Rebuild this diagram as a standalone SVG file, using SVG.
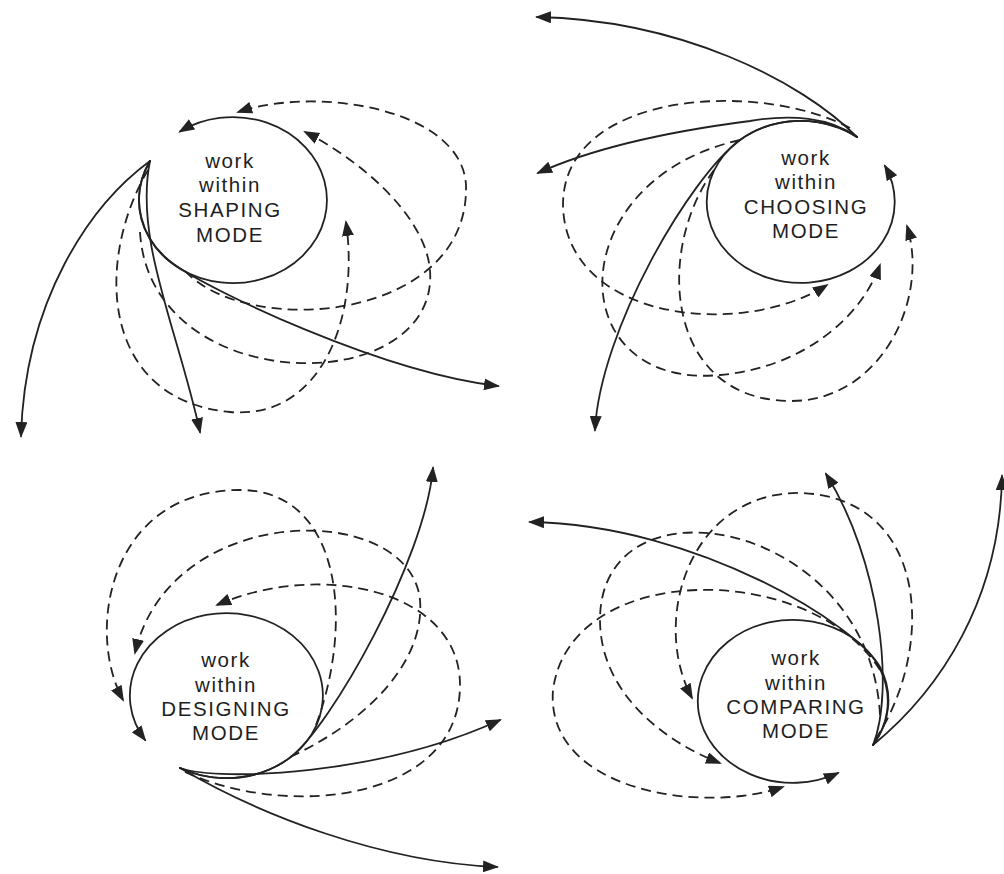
<svg xmlns="http://www.w3.org/2000/svg" width="1004" height="874" viewBox="0 0 1004 874">
<style>
.ln{fill:none;stroke:#222;stroke-width:1.8;stroke-linecap:round}
.ds{fill:none;stroke:#222;stroke-width:1.8;stroke-dasharray:10 6}
.tx{font-family:"Liberation Sans",Arial,sans-serif;font-size:20.5px;letter-spacing:1.6px;fill:#1e1e1e;text-anchor:middle}
</style>
<defs>
<marker id="ah" viewBox="0 0 16 12" refX="14" refY="6" markerWidth="16" markerHeight="12" markerUnits="userSpaceOnUse" orient="auto"><path d="M0,0 L16,6 L0,12 z" fill="#222"/></marker>
</defs>
<rect width="1004" height="874" fill="#fff"/>

<g id="shaping">
<path class="ln" d="M150,161 A94,83 0 1 0 180,131.5" marker-end="url(#ah)"/>
<text class="tx" x="230" y="168">work</text>
<text class="tx" x="230" y="192">within</text>
<text class="tx" x="230" y="217">SHAPING</text>
<text class="tx" x="230" y="242">MODE</text>
</g>

<g id="choosing">
<path class="ln" d="M857,137 A94,81 0 1 0 885,166" marker-end="url(#ah)"/>
<text class="tx" x="806" y="165">work</text>
<text class="tx" x="806" y="189">within</text>
<text class="tx" x="806" y="214">CHOOSING</text>
<text class="tx" x="806" y="238">MODE</text>
</g>

<g id="designing">
<path class="ln" d="M180,768 A96.5,82.5 0 1 0 145,740" marker-end="url(#ah)"/>
<text class="tx" x="226" y="667">work</text>
<text class="tx" x="226" y="692">within</text>
<text class="tx" x="226" y="716">DESIGNING</text>
<text class="tx" x="226" y="740">MODE</text>
</g>

<g id="comparing">
<path class="ln" d="M873,745 A95,81.5 0 1 0 838,773" marker-end="url(#ah)"/>
<text class="tx" x="796" y="665">work</text>
<text class="tx" x="796" y="690">within</text>
<text class="tx" x="796" y="714">COMPARING</text>
<text class="tx" x="796" y="738">MODE</text>
</g>

<g id="connectors">
<!-- shaping -->
<path class="ln" d="M150,161 C90,205 25,300 21,436" marker-end="url(#ah)"/>
<path class="ln" d="M150,161 C134,240 178,330 200,432" marker-end="url(#ah)"/>
<path class="ln" d="M150,161 A94,83 0 0 0 175,265 C210,290 380,372 498,386" marker-end="url(#ah)"/>
<path class="ds" d="M148,170 C95,260 100,400 230,412 C320,420 360,320 346,222" marker-end="url(#ah)"/>
<path class="ds" d="M140,232 C150,400 440,400 430,270 C425,215 360,160 305,132" marker-end="url(#ah)"/>
<path class="ds" d="M185,271 C250,340 470,320 466,185 C462,110 320,85 238,112" marker-end="url(#ah)"/>
<!-- choosing -->
<path class="ln" d="M857,137 C800,80 680,20 537,17" marker-end="url(#ah)"/>
<path class="ln" d="M857,137 C830,117 790,114 750,121 C680,130 600,145 538,173" marker-end="url(#ah)"/>
<path class="ln" d="M857,137 A94,81 0 0 0 740,140 C690,177 600,330 595,430" marker-end="url(#ah)"/>
<path class="ds" d="M850,128 C760,80 563,90 563,205 C565,320 740,340 827,285" marker-end="url(#ah)"/>
<path class="ds" d="M740,140 C560,180 560,390 720,375 C800,368 860,320 880,265" marker-end="url(#ah)"/>
<path class="ds" d="M714,170 C655,250 665,400 790,401 C880,402 930,300 907,226" marker-end="url(#ah)"/>
<!-- designing -->
<path class="ln" d="M180,768 A96.5,82.5 0 0 0 290,757.6 C330,728 425,560 433,468" marker-end="url(#ah)"/>
<path class="ln" d="M180,768 C220,782 380,775 500,720" marker-end="url(#ah)"/>
<path class="ln" d="M180,768 C260,815 380,862 497,867" marker-end="url(#ah)"/>
<path class="ds" d="M185,772 C290,820 460,800 460,685 C460,590 320,560 217,605" marker-end="url(#ah)"/>
<path class="ds" d="M290,757 C370,720 425,660 420,600 C410,500 170,500 135,653" marker-end="url(#ah)"/>
<path class="ds" d="M316,725 C355,620 340,490 240,490 C110,490 85,630 123,700" marker-end="url(#ah)"/>
<!-- comparing -->
<path class="ln" d="M873,745 C895,690 880,560 826,474" marker-end="url(#ah)"/>
<path class="ln" d="M873,745 A95,81.5 0 0 0 880,667 C858,627 700,525 530,522" marker-end="url(#ah)"/>
<path class="ln" d="M873,745 C940,690 1000,600 1002,476" marker-end="url(#ah)"/>
<path class="ds" d="M875,740 C935,650 930,500 803,493 C690,490 650,620 692,698" marker-end="url(#ah)"/>
<path class="ds" d="M880,715 C870,520 600,470 600,620 C600,690 660,740 720,763" marker-end="url(#ah)"/>
<path class="ds" d="M880,670 C810,560 570,560 553,690 C545,790 700,815 783,787" marker-end="url(#ah)"/>
</g>
</svg>
